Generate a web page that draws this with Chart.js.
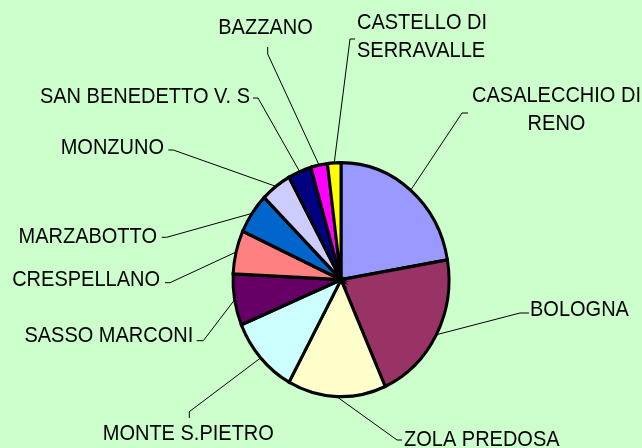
<!DOCTYPE html>
<html>
<head>
<meta charset="utf-8">
<script src="https://cdn.jsdelivr.net/npm/chart.js@4/dist/chart.umd.min.js"></script>
<style>
html,body{margin:0;padding:0;background:#CCFFCC;}
#wrap{width:642px;height:448px;position:relative;}
</style>
</head>
<body>
<div id="wrap"><canvas id="c" width="642" height="448"></canvas></div>
<script>
// ---- data ----
const categories = [
  ['CASALECCHIO DI', 'RENO'],
  'BOLOGNA',
  'ZOLA PREDOSA',
  'MONTE S.PIETRO',
  'SASSO MARCONI',
  'CRESPELLANO',
  'MARZABOTTO',
  'MONZUNO',
  'SAN BENEDETTO V. S',
  'BAZZANO',
  ['CASTELLO DI', 'SERRAVALLE']
];
const shares = [22.3, 21.0, 14.7, 10.7, 7.1, 6.0, 5.6, 4.6, 3.5, 2.5, 2.0];
const sliceColors = ['#9999FF', '#993366', '#FFFFCC', '#CCFFFF', '#660066', '#FF8080',
                     '#0066CC', '#CCCCFF', '#000080', '#FF00FF', '#FFFF00'];

// ---- label placement (layout only) ----
const labelLayout = [
  {align: 'center', x: 556.5, y: 96,    elbow: [462, 113],     tick: [468, 113]},
  {align: 'left',   x: 530,   y: 310.5, elbow: [520, 313],     tick: [529, 313]},
  {align: 'left',   x: 404,   y: 440,   elbow: [397, 440],     tick: [402, 440]},
  {align: 'center', x: 188.3, y: 434.5, elbow: [189.3, 411.7], tick: [189.3, 418]},
  {align: 'right',  x: 193.3, y: 336,   elbow: [203.3, 340.7], tick: [196.7, 340.7]},
  {align: 'right',  x: 160,   y: 280.5, elbow: [170, 282.7],   tick: [165, 282.7]},
  {align: 'right',  x: 157,   y: 237,   elbow: [166.7, 237.3], tick: [161.7, 237.3]},
  {align: 'right',  x: 164,   y: 148,   elbow: [173.3, 150],   tick: [168.3, 150]},
  {align: 'right',  x: 250,   y: 97,    elbow: [258, 98],      tick: [253, 98]},
  {align: 'center', x: 265.5, y: 28,    elbow: [267.7, 54],    tick: [267.7, 47]},
  {align: 'left',   x: 357,   y: 23,    elbow: [350, 39],      tick: [355, 39]}
];
const STRETCH = 1.083;   // vertical stretch of the original picture
const LINE_H = 28.5;

const bgPlugin = {
  id: 'bg',
  beforeDraw(chart) {
    const ctx = chart.ctx;
    ctx.save();
    ctx.fillStyle = '#CCFFCC';
    ctx.fillRect(0, 0, chart.width, chart.height);
    ctx.restore();
  }
};

const ellipsePlugin = {
  id: 'ellipse',
  beforeDatasetsDraw(chart) {
    const arc = chart.getDatasetMeta(0).data[0];
    const ctx = chart.ctx;
    ctx.save();
    ctx.translate(arc.x, arc.y);
    ctx.scale(1, STRETCH);
    ctx.translate(-arc.x, -arc.y);
  },
  afterDatasetsDraw(chart) {
    chart.ctx.restore();
  }
};

const labelPlugin = {
  id: 'outsideLabels',
  afterDraw(chart) {
    const ctx = chart.ctx;
    const meta = chart.getDatasetMeta(0);
    ctx.save();
    ctx.strokeStyle = '#000000';
    ctx.lineWidth = 1;
    ctx.fillStyle = '#000000';
    ctx.font = '20px "Liberation Sans", Arial, sans-serif';
    ctx.textBaseline = 'middle';
    meta.data.forEach((arc, i) => {
      const L = labelLayout[i];
      const mid = (arc.startAngle + arc.endAngle) / 2;
      const px = arc.x + arc.outerRadius * Math.cos(mid);
      const py = arc.y + STRETCH * arc.outerRadius * Math.sin(mid);
      ctx.beginPath();
      ctx.moveTo(px, py);
      ctx.lineTo(L.elbow[0], L.elbow[1]);
      ctx.lineTo(L.tick[0], L.tick[1]);
      ctx.stroke();
      const lab = chart.data.labels[i];
      const lines = Array.isArray(lab) ? lab : [lab];
      ctx.textAlign = L.align;
      lines.forEach((t, j) => {
        ctx.save();
        ctx.translate(L.x, L.y + j * LINE_H);
        ctx.scale(1, STRETCH);
        ctx.fillText(t, 0, 0);
        ctx.restore();
      });
    });
    ctx.restore();
  }
};

new Chart(document.getElementById('c'), {
  type: 'pie',
  data: {
    labels: categories,
    datasets: [{
      data: shares,
      backgroundColor: sliceColors,
      borderColor: '#000000',
      borderWidth: 3,
      borderJoinStyle: 'miter',
      clip: false
    }]
  },
  options: {
    responsive: false,
    animation: false,
    radius: 108,
    layout: {padding: {left: 40, right: 0, top: 111.4, bottom: 0}},
    plugins: {legend: {display: false}, tooltip: {enabled: false}, title: {display: false}},
    events: []
  },
  plugins: [bgPlugin, ellipsePlugin, labelPlugin]
});
</script>
</body>
</html>
